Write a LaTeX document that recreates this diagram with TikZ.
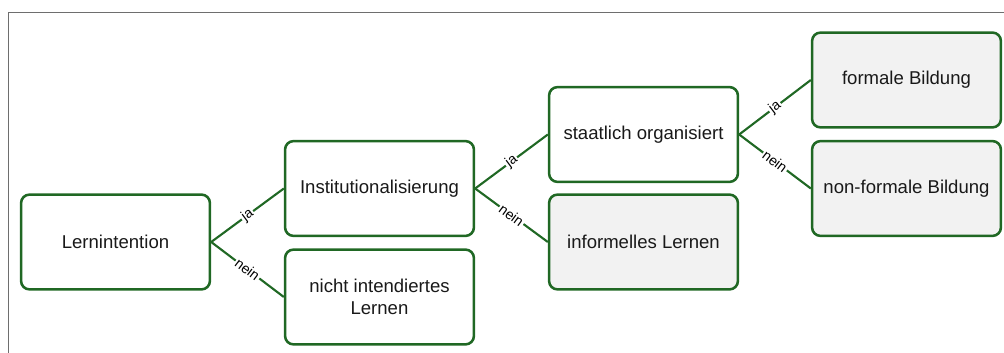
\documentclass[tikz,border=0pt]{standalone}
\usepackage{fontspec}
\setmainfont{Liberation Sans}
\definecolor{boxgreen}{RGB}{32,104,36}
\definecolor{leafgray}{RGB}{242,242,242}
\definecolor{framegray}{RGB}{110,110,110}

\begin{document}
\begin{tikzpicture}[
    x=0.025cm, y=-0.025cm,
    box/.style={draw=boxgreen, line width=1.8pt, rounded corners=6pt, fill=white,
        minimum width=4.72cm, minimum height=2.37cm, align=center,
        font=\fontsize{13.2}{16}\selectfont, text=black!90},
    leaf/.style={box, fill=leafgray},
    branch/.style={draw=boxgreen, line width=1.5pt},
    answer/.style={sloped, fill=white, inner sep=1pt, font=\fontsize{10}{11}\selectfont}
]
    % Page size and frame
    \useasboundingbox (0,0) rectangle (1004,353);
    \draw[framegray, line width=0.6pt] (8,353) -- (8,12) -- (1004,12);

    % Column positions
    \def\colA{115.5}
    \def\colB{379.5}
    \def\colC{643.5}
    \def\colD{906.5}

    % Boxes
    \node[box]  (intent)   at (\colA, 242)   {Lernintention};
    \node[box]  (inst)     at (\colB, 188.5) {Institutionalisierung};
    \node[box]  (nonint)   at (\colB, 297)   {nicht intendiertes\\Lernen};
    \node[box]  (state)    at (\colC, 134.5) {staatlich organisiert};
    \node[leaf] (informal) at (\colC, 242)   {informelles Lernen};
    \node[leaf] (formal)   at (\colD, 80)    {formale Bildung};
    \node[leaf] (nonformal) at (\colD, 188.5) {non-formale Bildung};

    % Branches
    \draw[branch] (intent.east) -- node[answer] {ja} (inst.west);
    \draw[branch] (intent.east) -- node[answer] {nein} (nonint.west);
    \draw[branch] (inst.east) -- node[answer] {ja} (state.west);
    \draw[branch] (inst.east) -- node[answer] {nein} (informal.west);
    \draw[branch] (state.east) -- node[answer] {ja} (formal.west);
    \draw[branch] (state.east) -- node[answer] {nein} (nonformal.west);

\end{tikzpicture}
\end{document}
